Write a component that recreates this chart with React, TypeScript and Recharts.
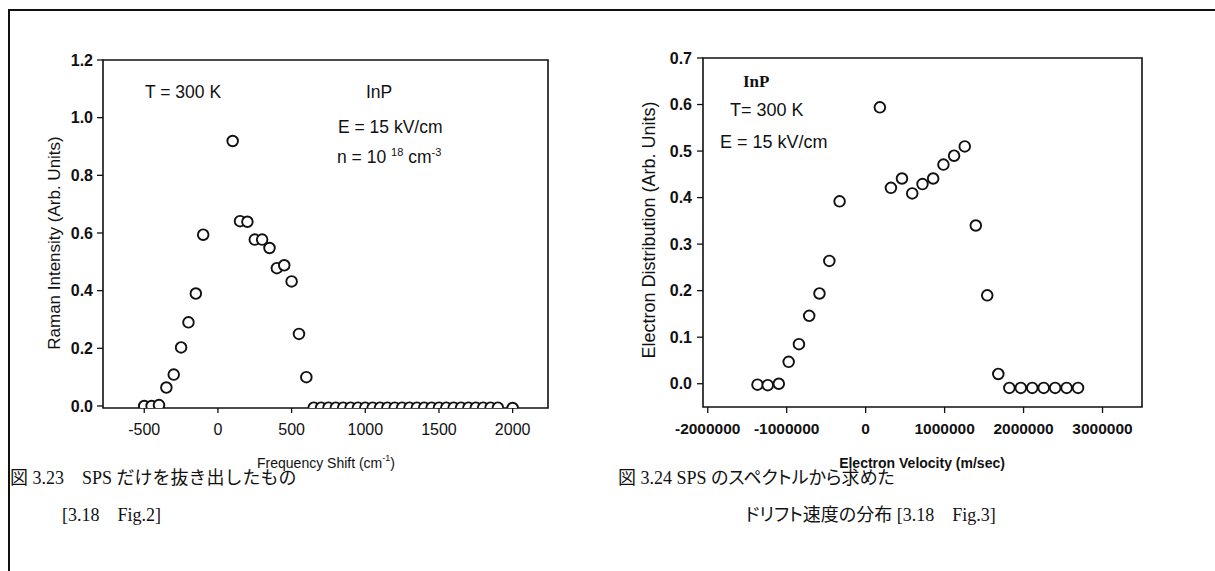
import React from "react";
import { ScatterChart, Scatter, XAxis, YAxis, ReferenceArea } from "recharts";

// Fig 3.23 - SPS spectrum
const shiftX = [
  -500, -450, -400, -350, -300, -250, -200, -150, -100, 100, 150, 200, 250, 300, 350, 400, 450, 500, 550, 600,
  650, 700, 750, 800, 850, 900, 950, 1000, 1050, 1100, 1150, 1200, 1250, 1300, 1350, 1400, 1450, 1500, 1550,
  1600, 1650, 1700, 1750, 1800, 1850, 1900, 2000,
];
const ramanY = [
  0, 0, 0.003, 0.064, 0.109, 0.203, 0.29, 0.39, 0.594, 0.919, 0.641, 0.639, 0.577, 0.577, 0.548, 0.478, 0.488,
  0.432, 0.25, 0.1, -0.006, -0.006, -0.006, -0.006, -0.006, -0.006, -0.006, -0.006, -0.006, -0.006, -0.006,
  -0.006, -0.006, -0.006, -0.006, -0.006, -0.006, -0.006, -0.006, -0.006, -0.006, -0.006, -0.006, -0.006,
  -0.006, -0.006, -0.007,
];
const shiftTicks = [-500, 0, 500, 1000, 1500, 2000];
const ramanTicks = [0, 0.2, 0.4, 0.6, 0.8, 1.0, 1.2];

// Fig 3.24 - drift velocity distribution
const velocityX = [
  -1370000, -1240000, -1100000, -975000, -845000, -715000, -585000, -460000, -330000, 180000, 320000, 460000,
  590000, 720000, 855000, 985000, 1120000, 1255000, 1395000, 1540000, 1680000, 1820000, 1965000, 2110000,
  2255000, 2400000, 2545000, 2690000,
];
const distY = [
  -0.002, -0.003, 0, 0.047, 0.085, 0.146, 0.194, 0.264, 0.392, 0.594, 0.421, 0.441, 0.409, 0.429, 0.441, 0.471,
  0.49, 0.51, 0.34, 0.19, 0.021, -0.009, -0.009, -0.009, -0.009, -0.009, -0.009, -0.009,
];
const velocityTicks = [-2000000, -1000000, 0, 1000000, 2000000, 3000000];
const distTicks = [0, 0.1, 0.2, 0.3, 0.4, 0.5, 0.6, 0.7];

const ramanData = shiftX.map((x, i) => ({ x, y: ramanY[i] }));
const distData = velocityX.map((x, i) => ({ x, y: distY[i] }));

const INK = "#111";
const SANS = '"Liberation Sans", Arial, sans-serif';
const NARROW = '"Liberation Sans Narrow", "Liberation Sans", sans-serif';
const SERIF = '"Liberation Serif", "Noto Sans CJK JP", serif';

function OpenCircle(props: any) {
  const { cx, cy } = props;
  if (cx == null || cy == null) return null;
  return <circle cx={cx} cy={cy} r={5.3} fill="#fff" stroke={INK} strokeWidth={1.9} />;
}

function Note({ left, top, size, family = SANS, weight = "normal", palt = false, children }: any) {
  return (
    <div
      style={{
        position: "absolute",
        left,
        top,
        fontSize: size,
        fontFamily: family,
        fontWeight: weight,
        fontFeatureSettings: palt ? '"palt"' : undefined,
        lineHeight: 1,
        whiteSpace: "nowrap",
        color: INK,
      }}
    >
      {children}
    </div>
  );
}

function Centered({ x, y, size, family = SANS, weight = "normal", rotate = 0, children }: any) {
  return (
    <div
      style={{
        position: "absolute",
        left: x,
        top: y,
        transform: `translate(-50%, -50%) rotate(${rotate}deg)`,
        fontSize: size,
        fontFamily: family,
        fontWeight: weight,
        lineHeight: 1,
        whiteSpace: "nowrap",
        color: INK,
      }}
    >
      {children}
    </div>
  );
}

function Sup({ children, size = 11 }: any) {
  return <span style={{ position: "relative", top: -7, fontSize: size }}>{children}</span>;
}

function RamanChart() {
  return (
    <ScatterChart width={600} height={500} margin={{ top: 60, right: 52, bottom: 32, left: 63 }}>
      <ReferenceArea x1={-780} x2={2240} y1={-0.007} y2={1.2} fill="none" stroke={INK} strokeWidth={1.6} ifOverflow="visible" />
      <XAxis
        type="number"
        dataKey="x"
        domain={[-780, 2240]}
        ticks={shiftTicks}
        interval={0}
        allowDataOverflow
        height={60}
        axisLine={false}
        tickSize={5}
        tickMargin={11}
        tickLine={{ stroke: INK, strokeWidth: 1.3 }}
        tick={{ fill: INK, fontSize: 16, fontFamily: SANS }}
      />
      <YAxis
        type="number"
        dataKey="y"
        domain={[-0.007, 1.2]}
        ticks={ramanTicks}
        interval={0}
        allowDataOverflow
        width={40}
        axisLine={false}
        tickSize={6}
        tickMargin={4}
        tickLine={{ stroke: INK, strokeWidth: 1.3 }}
        tickFormatter={(v: number) => v.toFixed(1)}
        tick={{ fill: INK, fontSize: 16, fontFamily: SANS, fontWeight: "bold" }}
      />
      <Scatter data={ramanData} shape={OpenCircle} isAnimationActive={false} />
    </ScatterChart>
  );
}

function VelocityChart() {
  return (
    <ScatterChart width={615} height={500} margin={{ top: 58, right: 73, bottom: 33, left: 63 }}>
      <ReferenceArea x1={-2060000} x2={3500000} y1={-0.05} y2={0.7} fill="none" stroke={INK} strokeWidth={1.6} ifOverflow="visible" />
      <XAxis
        type="number"
        dataKey="x"
        domain={[-2060000, 3500000]}
        ticks={velocityTicks}
        interval={0}
        allowDataOverflow
        height={60}
        axisLine={false}
        tickSize={6}
        tickMargin={10}
        tickLine={{ stroke: INK, strokeWidth: 1.3 }}
        tick={{ fill: INK, fontSize: 15.5, fontFamily: SANS, fontWeight: "bold" }}
      />
      <YAxis
        type="number"
        dataKey="y"
        domain={[-0.05, 0.7]}
        ticks={distTicks}
        interval={0}
        allowDataOverflow
        width={40}
        axisLine={false}
        tickSize={6}
        tickMargin={5}
        tickLine={{ stroke: INK, strokeWidth: 1.3 }}
        tickFormatter={(v: number) => v.toFixed(1)}
        tick={{ fill: INK, fontSize: 16, fontFamily: SANS, fontWeight: "bold" }}
      />
      <Scatter data={distData} shape={OpenCircle} isAnimationActive={false} />
    </ScatterChart>
  );
}

export default function App() {
  return (
    <div style={{ position: "absolute", left: 0, top: 0, width: 1215, height: 571, background: "#fff", overflow: "hidden" }}>
      {/* page frame */}
      <div style={{ position: "absolute", left: 8, top: 9, width: 1207, height: 2, background: INK }} />
      <div style={{ position: "absolute", left: 8, top: 9, width: 2, height: 562, background: INK }} />

      <div style={{ position: "absolute", left: 0, top: 0 }}>
        <RamanChart />
      </div>
      <div style={{ position: "absolute", left: 600, top: 0 }}>
        <VelocityChart />
      </div>

      {/* left chart titles and notes */}
      <Centered x={54} y={243} size={17} rotate={-90}>Raman Intensity (Arb. Units)</Centered>
      <Centered x={326} y={463} size={14} family={NARROW}>
        Frequency Shift (cm<Sup size={9}>-1</Sup>)
      </Centered>
      <Note left={145} top={84} size={17.5}>T = 300 K</Note>
      <Note left={366} top={84} size={17.5}>InP</Note>
      <Note left={338} top={119} size={17.5}>E = 15 kV/cm</Note>
      <Note left={337} top={149} size={17.5}>
        n = 10 <Sup>18</Sup> cm<Sup>-3</Sup>
      </Note>

      {/* right chart titles and notes */}
      <Centered x={649} y={230} size={18} rotate={-90}>Electron Distribution (Arb. Units)</Centered>
      <Centered x={922} y={463} size={14} family={NARROW} weight="bold">
        Electron Velocity (m/sec)
      </Centered>
      <Note left={743} top={73} size={17} family={SERIF} weight="bold">InP</Note>
      <Note left={730} top={101} size={18}>T= 300 K</Note>
      <Note left={720} top={133} size={18}>E = 15 kV/cm</Note>

      {/* captions */}
      <Note left={10} top={469} size={18} family={SERIF}>図 3.23　SPS だけを抜き出したもの</Note>
      <Note left={62} top={506} size={18} family={SERIF}>[3.18　Fig.2]</Note>
      <Note left={618} top={469} size={18} family={SERIF} palt>図 3.24 SPS のスペクトルから求めた</Note>
      <Note left={745} top={506} size={18} family={SERIF} palt>ドリフト速度の分布 [3.18　Fig.3]</Note>
    </div>
  );
}
